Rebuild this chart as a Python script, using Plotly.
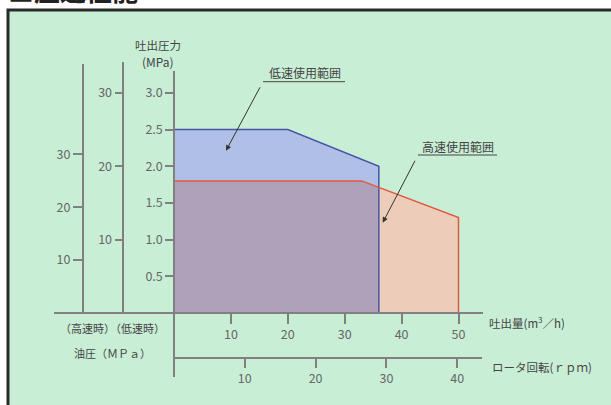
import numpy as np
import plotly.graph_objects as go

# ---------------- data ----------------
low_flow = [0, 20, 36, 36]        # 低速使用範囲 outline, m3/h
low_pres = [2.5, 2.5, 2.0, 0]     # MPa
high_flow = [0, 33, 50, 50]       # 高速使用範囲 outline, m3/h
high_pres = [1.8, 1.8, 1.3, 0]    # MPa

flow_ticks = [10, 20, 30, 40, 50]
pres_ticks = [0.5, 1.0, 1.5, 2.0, 2.5, 3.0]
pres_ticktext = ["0.5", "1.0", "1.5", "2.0", "2.5", "3.0"]
oil_low_ticks = [10, 20, 30]
oil_high_ticks = [10, 20, 30]
rpm_ticks = [10, 20, 30, 40]

# ---------------- layout helpers ----------------
W, H = 611, 405
def px(x):
    return x / W
def py(y):
    return 1 - y / H

FONT = "Noto Sans CJK JP"
GRAY = "#666666"
TXT = "#444444"
BG = "#c9eed6"

FX = 5.69   # px per m3/h
FY = 73.4   # px per MPa
X0, Y0 = 174, 313

fig = go.Figure()

# polygons
lx = [0] + low_flow
ly = [0] + low_pres
hx = [0] + high_flow
hy = [0] + high_pres
fig.add_trace(go.Scatter(x=lx, y=ly, fill="toself", fillcolor="#b0bfe6",
                         line=dict(width=0), mode="lines", hoverinfo="skip"))
fig.add_trace(go.Scatter(x=hx, y=hy, fill="toself", fillcolor="#edcdb9",
                         line=dict(width=0), mode="lines", hoverinfo="skip"))
# overlap region (min of both curves over shared flow span)
xend = min(low_flow[-1], high_flow[-1])
xs = sorted(set([v for v in low_flow + high_flow if v <= xend]))
ys = [min(np.interp(v, low_flow[:-1], low_pres[:-1]),
          np.interp(v, high_flow[:-1], high_pres[:-1])) for v in xs]
ox = [0] + xs + [xend]
oy = [0] + ys + [0]
fig.add_trace(go.Scatter(x=ox, y=oy, fill="toself", fillcolor="#b0a1ba",
                         line=dict(width=0), mode="lines", hoverinfo="skip"))
# outlines
fig.add_trace(go.Scatter(x=low_flow, y=low_pres, mode="lines",
                         line=dict(color="#4656a8", width=1.5), hoverinfo="skip"))
fig.add_trace(go.Scatter(x=high_flow, y=high_pres, mode="lines",
                         line=dict(color="#e2583c", width=1.5), hoverinfo="skip"))

# invisible traces to carry the extra axes
fig.add_trace(go.Scatter(x=[0], y=[0], xaxis="x", yaxis="y2", mode="markers",
                         marker=dict(opacity=0), hoverinfo="skip"))
fig.add_trace(go.Scatter(x=[0], y=[0], xaxis="x", yaxis="y3", mode="markers",
                         marker=dict(opacity=0), hoverinfo="skip"))
fig.add_trace(go.Scatter(x=[0], y=[0], xaxis="x2", yaxis="y", mode="markers",
                         marker=dict(opacity=0), hoverinfo="skip"))

axis_common = dict(showgrid=False, zeroline=False, showline=True,
                   linecolor="#808080", linewidth=1.5, ticks="outside",
                   tickcolor="#808080", tickwidth=1.5,
                   tickfont=dict(family=FONT, size=12.5, color=GRAY),
                   fixedrange=True)

x_left, x_right = 54, 483
y_top, y_bot = 71, 377
fig.update_layout(
    width=W, height=H, margin=dict(l=0, r=0, t=0, b=0),
    paper_bgcolor="white", plot_bgcolor="rgba(0,0,0,0)",
    showlegend=False,
    xaxis=dict(domain=[px(x_left), px(x_right)],
               range=[-(X0 - x_left) / FX, (x_right - X0) / FX],
               anchor="free", position=py(Y0),
               tickvals=flow_ticks, ticklen=10, **axis_common),
    yaxis=dict(domain=[py(y_bot), py(y_top)],
               range=[-(y_bot - Y0) / FY, (Y0 - y_top) / FY],
               anchor="free", position=px(X0),
               tickvals=pres_ticks, ticktext=pres_ticktext, ticklen=8,
               **axis_common),
    yaxis2=dict(domain=[py(Y0), py(62)],
                range=[0, (Y0 - 62) / (FY / 10)],
                anchor="free", position=px(123.3),
                tickvals=oil_low_ticks, ticklen=8, **axis_common),
    yaxis3=dict(domain=[py(Y0), py(63.5)],
                range=[0, (Y0 - 63.5) / 5.29],
                anchor="free", position=px(82.7),
                tickvals=oil_high_ticks, ticklen=9, **axis_common),
    xaxis2=dict(domain=[px(X0), px(481.7)],
                range=[0, (481.7 - X0) / 7.08],
                anchor="free", position=py(357.7),
                tickvals=rpm_ticks, ticklen=10, **axis_common),
)

shapes = []
# frame
shapes.append(dict(type="rect", xref="paper", yref="paper",
                   x0=px(8), x1=1.05, y0=-0.05, y1=py(10),
                   fillcolor=BG, line=dict(color="#2a2a2a", width=3), layer="below"))
# underline leaders
shapes.append(dict(type="line", xref="paper", yref="paper",
                   x0=px(263), x1=px(345), y0=py(81.7), y1=py(81.7),
                   line=dict(color="#444", width=1)))
shapes.append(dict(type="line", xref="paper", yref="paper",
                   x0=px(418), x1=px(497), y0=py(155), y1=py(155),
                   line=dict(color="#444", width=1)))
fig.update_layout(shapes=shapes)

ann = []
def label(text, x, y, size=11.5, anchor="center", color=TXT, bold=False):
    ann.append(dict(text=("<b>%s</b>" % text) if bold else text,
                    xref="paper", yref="paper", x=px(x), y=py(y),
                    xanchor=anchor, yanchor="middle", showarrow=False,
                    font=dict(family=FONT, size=size, color=color)))

label("吐出圧力", 158, 45, 11.5)
label("(MPa)", 158, 61.7, 12)
label("（高速時）", 87, 328, 11)
label("（低速時）", 137, 328, 11)
label("油圧（ＭＰａ）", 112, 352.7, 11)
label("吐出量(m<sup>3</sup>／h)", 487, 322.7, 11.5, anchor="left")
label("ロータ回転(ｒｐｍ)", 490, 366.7, 11.5, anchor="left")
label("低速使用範囲", 305, 72.7, 12)
label("高速使用範囲", 458, 146, 12)

# title (mostly cut off at the top of the picture)
ann.append(dict(text="<b>■圧送性能</b>", xref="paper", yref="paper",
                x=px(6), y=py(10), xanchor="left", yanchor="bottom",
                showarrow=False,
                font=dict(family=FONT, size=26, color="#222")))

# arrows
for tip, tail in [((226, 150.7), (263, 81.7)), ((382.7, 222.7), (418, 155))]:
    ann.append(dict(text=" ", xref="paper", yref="paper",
                    x=px(tip[0]), y=py(tip[1]),
                    ax=tail[0] - tip[0], ay=tail[1] - tip[1],
                    showarrow=True, arrowhead=2, arrowsize=1.1,
                    arrowwidth=1, arrowcolor="#333"))
fig.update_layout(annotations=ann)

fig.write_html("out.html", config={"displayModeBar": False},
               post_script="document.body.style.margin='0';")
